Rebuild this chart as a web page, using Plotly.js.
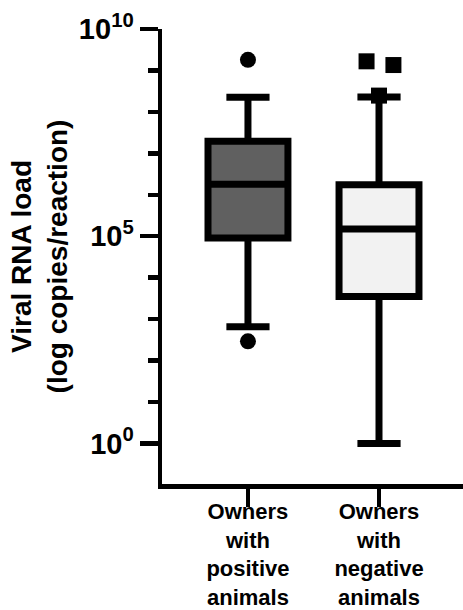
<!DOCTYPE html>
<html>
<head>
<meta charset="utf-8">
<script src="https://cdn.plot.ly/plotly-3.0.1.min.js"></script>
<style>
  html, body { margin: 0; padding: 0; background: #ffffff; }
  #chart { width: 463px; height: 610px; }
</style>
</head>
<body>
<div id="chart"></div>
<script>
// ---- Data ----
const categories = [
  "Owners<br>with<br>positive<br>animals",
  "Owners<br>with<br>negative<br>animals"
];
const lowerFence = [650, 1];
const q1 = [9.1e4, 3.5e3];
const median = [1.8e6, 1.5e5];
const q3 = [1.95e7, 1.75e6];
const upperFence = [2.25e8, 2.3e8];
const positiveOutliers = [1.8e9, 290];
const negativeOutliers = [1.66e9, 1.35e9, 2.47e8];

const yTickValues = [1, 1e5, 1e10];
const yTickLabels = ["10<sup>0</sup>", "10<sup>5</sup>", "10<sup>10</sup>"];
const yMinorTickValues = [10, 100, 1e3, 1e4, 1e6, 1e7, 1e8, 1e9];

// ---- Styles ----
const fills = ["#606060", "#f2f2f2"];
const symbols = ["circle", "square"];
const negJitter = [-0.095, 0.11, 0];   // horizontal spread of the outlier markers
const fontFamily = "Liberation Sans, Arial, Helvetica, sans-serif";

const traces = [];
categories.forEach((c, i) => {
  traces.push({
    type: "box",
    x: [i],
    q1: [q1[i]],
    median: [median[i]],
    q3: [q3[i]],
    lowerfence: [lowerFence[i]],
    upperfence: [upperFence[i]],
    boxpoints: false,
    width: 0.61,
    whiskerwidth: 0.54,
    fillcolor: fills[i],
    line: { color: "#000000", width: 7 },
    hoverinfo: "skip",
    showlegend: false
  });
});

traces.push({
  type: "scatter",
  mode: "markers",
  x: positiveOutliers.map(() => 0),
  y: positiveOutliers,
  marker: { symbol: symbols[0], size: 16, color: "#000000" },
  showlegend: false,
  hoverinfo: "y"
});
traces.push({
  type: "scatter",
  mode: "markers",
  x: negativeOutliers.map((v, k) => 1 + negJitter[k]),
  y: negativeOutliers,
  marker: { symbol: symbols[1], size: 16, color: "#000000" },
  showlegend: false,
  hoverinfo: "y"
});

const layout = {
  width: 463,
  height: 610,
  margin: { l: 162, r: 0, t: 29, b: 126 },
  paper_bgcolor: "#ffffff",
  plot_bgcolor: "#ffffff",
  font: { family: fontFamily, color: "#000000", weight: "bold" },
  showlegend: false,
  xaxis: {
    type: "linear",
    range: [-0.656, 1.641],
    tickmode: "array",
    tickvals: [0, 1],
    ticktext: categories,
    ticks: "outside",
    ticklen: 18,
    tickwidth: 4.5,
    tickcolor: "#000000",
    ticklabelstandoff: -14,
    showline: true,
    linewidth: 4.5,
    linecolor: "#000000",
    showgrid: false,
    zeroline: false,
    tickfont: { family: fontFamily, size: 22, color: "#000000", weight: "bold" },
    fixedrange: true
  },
  yaxis: {
    type: "log",
    range: [-0.98, 10],
    tickmode: "array",
    tickvals: yTickValues,
    ticktext: yTickLabels,
    ticks: "outside",
    ticklen: 18,
    tickwidth: 4.5,
    tickcolor: "#000000",
    showline: true,
    linewidth: 4.5,
    linecolor: "#000000",
    showgrid: false,
    zeroline: false,
    tickfont: { family: fontFamily, size: 29, color: "#000000", weight: "bold" },
    minor: {
      tickmode: "array",
      tickvals: yMinorTickValues,
      ticks: "outside",
      ticklen: 10,
      tickwidth: 4.5,
      tickcolor: "#000000",
      showgrid: false
    },
    title: {
      text: "Viral RNA load<br>(log copies/reaction)",
      font: { family: fontFamily, size: 28, color: "#000000", weight: "bold" },
      standoff: 4
    },
    automargin: false,
    fixedrange: true
  }
};

Plotly.newPlot("chart", traces, layout, { displayModeBar: false, staticPlot: true });
</script>
</body>
</html>
